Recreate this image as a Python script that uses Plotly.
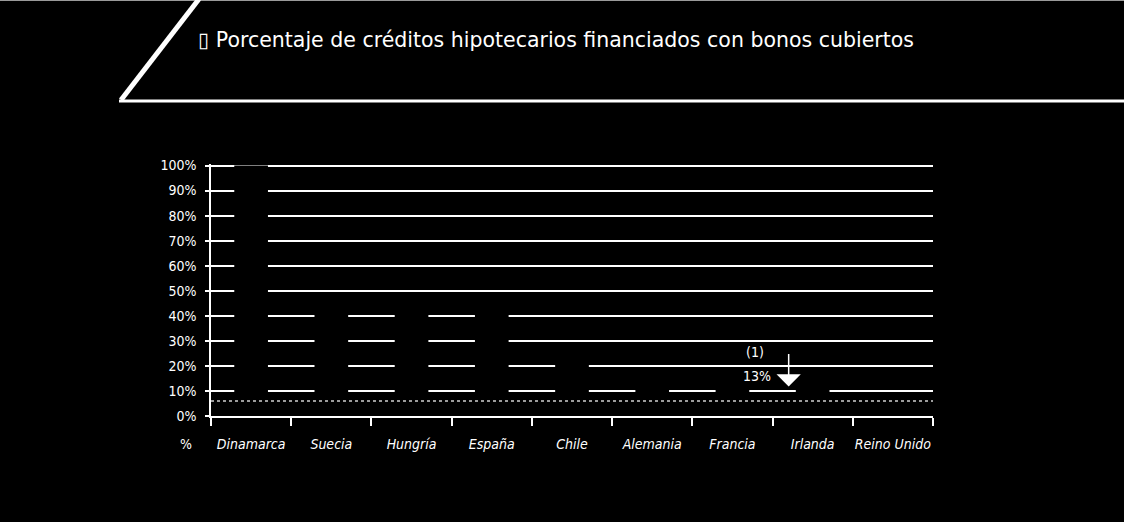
import plotly.graph_objects as go

# Share of mortgage loans funded with covered bonds, by country (%)
paises = ["Dinamarca", "Suecia", "Hungría", "España", "Chile",
          "Alemania", "Francia", "Irlanda", "Reino Unido"]
porcentajes = [100, 48, 47, 41, 27, 18, 15, 13, 7]
ticks_y = [0, 10, 20, 30, 40, 50, 60, 70, 80, 90, 100]
etiquetas_y = [f"{v}%" for v in ticks_y]
nivel_punteado = 6
pais_nota = "Irlanda"
nota = "(1)"

valor_nota = porcentajes[paises.index(pais_nota)]

FUENTE = "DejaVu Sans Condensed, Liberation Sans Narrow, sans-serif"

fig = go.Figure()
fig.add_trace(go.Bar(
    x=paises, y=porcentajes, width=0.42,
    marker=dict(color="black", line=dict(width=0)),
    hoverinfo="x+y",
))

fig.update_layout(
    width=1124, height=522,
    margin=dict(l=211, r=191, t=164, b=106, autoexpand=False),
    paper_bgcolor="black", plot_bgcolor="black",
    showlegend=False, bargap=0.58,
    font=dict(family=FUENTE, color="white", size=14),
)
fig.update_yaxes(
    range=[0, 100.6], tickvals=ticks_y, ticktext=etiquetas_y,
    showgrid=True, gridcolor="white", gridwidth=1.6,
    showline=True, linecolor="white", linewidth=1.5,
    ticks="outside", tickcolor="white", ticklen=4, tickwidth=1.5,
    zeroline=False, tickfont=dict(size=14), ticklabelstandoff=6,
    automargin=False, fixedrange=True,
)
fig.update_xaxes(
    showgrid=False, showline=True, linecolor="white", linewidth=2,
    ticks="outside", tickson="boundaries", tickcolor="white",
    ticklen=8, tickwidth=1.5, tickangle=0,
    tickfont=dict(size=14, style="italic"), ticklabelstandoff=14,
    automargin=False, fixedrange=True,
)

# dotted reference line near the base
fig.add_shape(type="line", xref="paper", yref="y", x0=0, x1=1,
              y0=nivel_punteado, y1=nivel_punteado,
              line=dict(color="#d0d0d0", width=1.5, dash="dot"))

# header band: top rule, diagonal stroke and bottom rule
fig.add_shape(type="line", xref="paper", yref="paper",
              x0=-211 / 722, x1=1 + 191 / 722, y0=1 + 163.5 / 252, y1=1 + 163.5 / 252,
              line=dict(color="#9a9a9a", width=1))
fig.add_shape(type="line", xref="paper", yref="paper",
              x0=(199 - 211) / 722, y0=1 + 165 / 252,
              x1=(121 - 211) / 722, y1=1 + 64 / 252,
              line=dict(color="white", width=5))
fig.add_shape(type="line", xref="paper", yref="paper",
              x0=(119 - 211) / 722, x1=1 + 191 / 722,
              y0=1 + 63 / 252, y1=1 + 63 / 252,
              line=dict(color="white", width=3))

fig.add_annotation(
    xref="paper", yref="paper", x=(196 - 211) / 722, y=1 + 124 / 252,
    xanchor="left", yanchor="middle", showarrow=False,
    text="▯ Porcentaje de créditos hipotecarios financiados con bonos cubiertos",
    font=dict(family="DejaVu Sans, sans-serif", size=20.5, color="white"),
)

# unit label under the value axis
fig.add_annotation(
    xref="paper", yref="paper", x=-17 / 722, y=-28 / 252,
    xanchor="right", yanchor="middle", showarrow=False, text="%",
    font=dict(size=14),
)

# footnote marker with arrow
fig.add_annotation(
    x=pais_nota, y=valor_nota, xref="x", yref="y", xshift=-24, yshift=-3,
    showarrow=True, ax=0, ay=-34, arrowhead=1, arrowsize=2.7,
    arrowwidth=1.5, arrowcolor="white", text="",
)
fig.add_annotation(
    x=pais_nota, y=valor_nota, xref="x", yref="y", xshift=-58, yshift=31,
    showarrow=False, text=nota, font=dict(size=14, color="white"),
)
fig.add_annotation(
    x=pais_nota, y=valor_nota, xref="x", yref="y", xshift=-56, yshift=7,
    showarrow=False, text=f"{valor_nota}%", font=dict(size=14, color="white"),
)

fig.write_html("out.html")
